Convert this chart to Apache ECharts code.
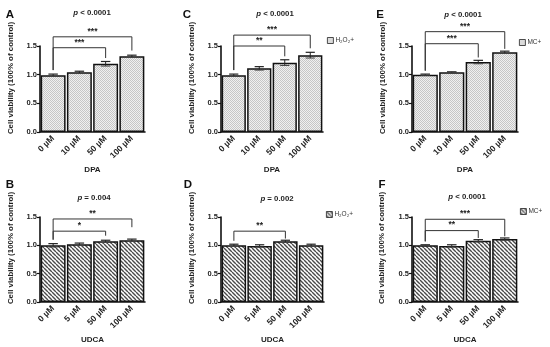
<!DOCTYPE html>
<html><head><meta charset="utf-8">
<script src="https://cdn.jsdelivr.net/npm/echarts@6/dist/echarts.min.js"></script>
<style>html,body{margin:0;padding:0;background:#fff}#c{width:550px;height:347px}</style>
</head><body><div id="c"></div>
<script>
// ---- data ----
const catsDPA = ['0 µM', '10 µM', '50 µM', '100 µM'];
const catsUDCA = ['0 µM', '5 µM', '50 µM', '100 µM'];
const yTicks = [0, 0.5, 1.0, 1.5];

const valA = [0.99, 1.04, 1.19, 1.32];
const errA = [0.02, 0.02, 0.04, 0.02];
const valC = [0.99, 1.11, 1.21, 1.34];
const errC = [0.02, 0.03, 0.05, 0.05];
const valE = [1.00, 1.04, 1.22, 1.39];
const errE = [0.01, 0.01, 0.03, 0.02];
const valB = [1.00, 1.02, 1.07, 1.09];
const errB = [0.03, 0.02, 0.02, 0.02];
const valD = [1.00, 0.99, 1.07, 1.00];
const errD = [0.02, 0.02, 0.02, 0.02];
const valF = [1.00, 0.99, 1.08, 1.11];
const errF = [0.01, 0.02, 0.02, 0.02];

// brackets: [fromIndex, toIndex, level, leftBottom, rightBottom]
const brkA = [[0, 3, 1.66, 1.08, 1.42], [0, 2, 1.47, 1.08, 1.29]];
const starA = ['***', '***'];
const brkC = [[0, 3, 1.69, 1.08, 1.46], [0, 2, 1.50, 1.08, 1.32]];
const starC = ['***', '**'];
const brkE = [[0, 3, 1.75, 1.07, 1.45], [0, 2, 1.54, 1.07, 1.30]];
const starE = ['***', '***'];
const brkB = [[0, 3, 1.465, 1.10, 1.32], [0, 2, 1.25, 1.10, 1.17]];
const starB = ['**', '*'];
const brkD = [[0, 2, 1.25, 1.08, 1.12]];
const starD = ['**'];
const brkF = [[0, 3, 1.46, 1.07, 1.16], [0, 2, 1.26, 1.07, 1.13]];
const starF = ['***', '**'];

const pA = '< 0.0001', pC = '< 0.0001', pE = '< 0.0001';
const pB = '= 0.004', pD = '= 0.002', pF = '< 0.0001';

// ---- patterns ----
function makeDots() {
  const c = document.createElement('canvas'); c.width = 2; c.height = 2;
  const g = c.getContext('2d');
  g.fillStyle = '#f0f0f0'; g.fillRect(0, 0, 2, 2);
  g.fillStyle = '#c6c6c6'; g.fillRect(0, 0, 1, 1); g.fillRect(1, 1, 1, 1);
  return c;
}
function makeStripes() {
  const s = 4;
  const c = document.createElement('canvas'); c.width = s; c.height = s;
  const g = c.getContext('2d');
  g.fillStyle = '#ffffff'; g.fillRect(0, 0, s, s);
  g.strokeStyle = '#4a4a4a'; g.lineWidth = 1.4;
  g.beginPath();
  for (let k = -1; k <= 1; k++) { g.moveTo(k * s, 0); g.lineTo(k * s + s, s); }
  g.stroke();
  return c;
}
const dotFill = { image: makeDots(), repeat: 'repeat' };
const stripeFill = { image: makeStripes(), repeat: 'repeat' };

const FONT = '"Liberation Sans", Arial, Helvetica, sans-serif';
const TXT = '#1e1e1e';

const panels = [
  { grid: { left: 40, top: 46, width: 105, height: 86 }, cats: catsDPA, vals: valA, errs: errA, brk: brkA, stars: starA, xname: 'DPA', fill: dotFill, name: 'sA', legend: null },
  { grid: { left: 221, top: 46, width: 102, height: 86 }, cats: catsDPA, vals: valC, errs: errC, brk: brkC, stars: starC, xname: 'DPA', fill: dotFill, name: 'H₂O₂+', legend: { left: 327, top: 37 } },
  { grid: { left: 412, top: 46, width: 106, height: 86 }, cats: catsDPA, vals: valE, errs: errE, brk: brkE, stars: starE, xname: 'DPA', fill: dotFill, name: 'MC+', legend: { left: 519, top: 39 } },
  { grid: { left: 40, top: 217, width: 105, height: 85 }, cats: catsUDCA, vals: valB, errs: errB, brk: brkB, stars: starB, xname: 'UDCA', fill: stripeFill, name: 'sB', legend: null },
  { grid: { left: 221, top: 217, width: 103, height: 85 }, cats: catsUDCA, vals: valD, errs: errD, brk: brkD, stars: starD, xname: 'UDCA', fill: stripeFill, name: 'H₂O₂+ ', legend: { left: 326, top: 211 } },
  { grid: { left: 412, top: 217, width: 106, height: 85 }, cats: catsUDCA, vals: valF, errs: errF, brk: brkF, stars: starF, xname: 'UDCA', fill: stripeFill, name: 'MC+ ', legend: { left: 520, top: 208 } }
];

const grids = [], xAxes = [], yAxes = [], series = [], legends = [];
panels.forEach((p, i) => {
  grids.push(Object.assign({ outerBoundsMode: 'none', containLabel: false }, p.grid));
  xAxes.push({
    type: 'category', gridIndex: i, data: p.cats,
    axisLine: { lineStyle: { color: '#111', width: 1.6 } },
    axisTick: { show: false },
    axisLabel: { rotate: 45, margin: 5, fontSize: 8.5, fontWeight: 'bold', color: TXT, fontFamily: FONT, interval: 0 },
    name: p.xname, nameLocation: 'middle', nameGap: 34,
    nameTextStyle: { fontSize: 8, fontWeight: 'bold', color: TXT, fontFamily: FONT }
  });
  yAxes.push({
    type: 'value', gridIndex: i, min: yTicks[0], max: yTicks[yTicks.length - 1], interval: 0.5,
    axisLine: { show: true, lineStyle: { color: '#111', width: 1.6 } },
    axisTick: { show: true, length: 3, lineStyle: { color: '#111', width: 1.2 } },
    splitLine: { show: false },
    axisLabel: { margin: 3, fontSize: 7.5, fontWeight: 'bold', color: TXT, fontFamily: FONT, formatter: v => v.toFixed(1) }
  });
  series.push({
    type: 'bar', name: p.name, xAxisIndex: i, yAxisIndex: i, data: p.vals,
    barCategoryGap: '5%', animation: false, silent: true,
    itemStyle: { color: p.fill, borderColor: '#111', borderWidth: 1.5 }
  });
  series.push({
    type: 'custom', xAxisIndex: i, yAxisIndex: i, z: 5, animation: false, silent: true,
    data: p.vals.map((v, k) => [k, v, p.errs[k]]),
    encode: { x: 0, y: 1 },
    renderItem(params, api) {
      const x = api.value(0), v = api.value(1), e = api.value(2);
      const t = api.coord([x, v + e]), b = api.coord([x, v - e]);
      const w = api.size([1, 0])[0] * 0.36;
      return { type: 'group', children: [
        { type: 'line', shape: { x1: t[0], y1: t[1], x2: b[0], y2: b[1] }, style: { stroke: '#222', lineWidth: 1 } },
        { type: 'line', shape: { x1: t[0] - w / 2, y1: t[1], x2: t[0] + w / 2, y2: t[1] }, style: { stroke: '#222', lineWidth: 1.2 } },
        { type: 'line', shape: { x1: b[0] - w / 2, y1: b[1], x2: b[0] + w / 2, y2: b[1] }, style: { stroke: '#444', lineWidth: 1 } }
      ] };
    }
  });
  const stars = p.stars;
  series.push({
    type: 'custom', xAxisIndex: i, yAxisIndex: i, z: 6, clip: false, animation: false, silent: true,
    data: p.brk,
    encode: { x: 0, y: 2 },
    renderItem(params, api) {
      const x1 = api.value(0), x2 = api.value(1), lv = api.value(2), lb = api.value(3), rb = api.value(4);
      const a = api.coord([x1, lv]), b = api.coord([x2, lv]);
      const la = api.coord([x1, lb]), rbp = api.coord([x2, rb]);
      return { type: 'group', children: [
        { type: 'polyline', shape: { points: [la, a, b, rbp] }, style: { stroke: '#333', lineWidth: 1, fill: null } },
        { type: 'text', x: (a[0] + b[0]) / 2, y: a[1] - 1, style: { text: stars[params.dataIndex], align: 'center', verticalAlign: 'bottom', font: 'bold 8.5px ' + FONT, fill: TXT } }
      ] };
    }
  });
  if (p.legend) {
    legends.push({
      left: p.legend.left, top: p.legend.top, padding: 0, orient: 'vertical',
      data: [p.name], icon: 'rect', itemWidth: 6, itemHeight: 6, selectedMode: false,
      itemStyle: { borderWidth: 0.8, borderColor: '#222' },
      textStyle: { fontSize: 6.5, color: '#333', fontFamily: FONT, padding: [0, 0, 0, -3] }
    });
  }
});

const letters = [['A', 10, 15], ['C', 187, 15], ['E', 380, 15], ['B', 10, 185], ['D', 188, 185], ['F', 382, 185]];
const ptitles = [[pA, 92, 13], [pC, 275, 14], [pE, 463, 15], [pB, 94, 198], [pD, 277, 199], [pF, 467, 197]];
const ytitles = [[10.5, 78], [191.5, 78], [382.5, 78], [10.5, 248], [191.5, 248], [382, 248]];

const graphics = [];
letters.forEach(([t, x, y]) => graphics.push({ type: 'text', x, y, style: { text: t, align: 'center', verticalAlign: 'middle', font: 'bold 11.5px ' + FONT, fill: '#111' } }));
ptitles.forEach(([t, x, y]) => graphics.push({ type: 'text', x, y, style: {
  text: '{i|p} ' + t, align: 'center', verticalAlign: 'middle', font: 'bold 7.8px ' + FONT, fill: TXT,
  rich: { i: { fontStyle: 'italic', fontWeight: 'bold', fontSize: 7.8, fontFamily: FONT, fill: TXT } }
} }));
ytitles.forEach(([x, y]) => graphics.push({ type: 'text', x, y, rotation: Math.PI / 2, style: {
  text: 'Cell viability (100% of control)', align: 'center', verticalAlign: 'middle', font: 'bold 7.9px ' + FONT, fill: TXT
} }));

const chart = echarts.init(document.getElementById('c'), null, { renderer: 'canvas' });
chart.setOption({
  animation: false,
  backgroundColor: '#fff',
  textStyle: { fontFamily: FONT },
  grid: grids, xAxis: xAxes, yAxis: yAxes, series, legend: legends, graphic: graphics
});
</script></body></html>
